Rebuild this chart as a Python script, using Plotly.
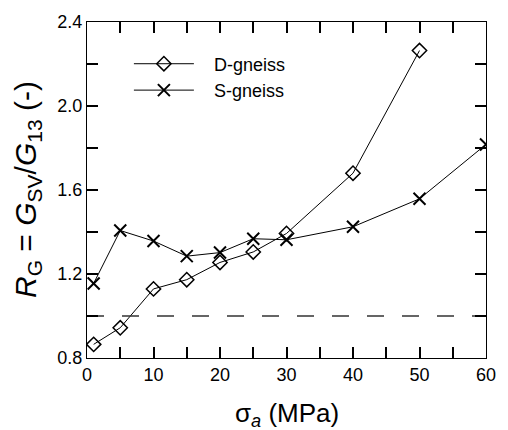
import plotly.graph_objects as go

# Axial stress levels (MPa) and stiffness ratio R_G for each rock
sigma_d = [1, 5, 10, 15, 20, 25, 30, 40, 50]
rg_d = [0.865, 0.944, 1.129, 1.173, 1.255, 1.305, 1.393, 1.680, 2.264]

sigma_s = [1, 5, 10, 15, 20, 25, 30, 40, 50, 60]
rg_s = [1.155, 1.407, 1.357, 1.285, 1.302, 1.368, 1.363, 1.425, 1.558, 1.817]

# Isotropy reference level
ref_x = [0, 60]
ref_y = [1.0, 1.0]

# Axis ranges, tick spacing and labels
X_RANGE = [0, 60]
Y_RANGE = [0.8, 2.4]
x_ticks = [0, 5, 10, 15, 20, 25, 30, 35, 40, 45, 50, 55, 60]
x_labels = ["0", "", "10", "", "20", "", "30", "", "40", "", "50", "", "60"]
y_ticks = [0.8, 1.0, 1.2, 1.4, 1.6, 1.8, 2.0, 2.2, 2.4]
y_labels = ["0.8", "", "1.2", "", "1.6", "", "2.0", "", "2.4"]

FONT = "Liberation Sans, Arial, sans-serif"
PAD = "\u00a0\u00a0\u00a0"  # spacing between legend sample and its label

fig = go.Figure()

# dashed reference line, drawn on the top/right frame axes
fig.add_trace(go.Scatter(
    x=ref_x, y=ref_y, mode="lines", showlegend=False,
    xaxis="x2", yaxis="y2",
    line=dict(color="#333333", width=1.3, dash="17px,18px"),
    hoverinfo="skip",
))

fig.add_trace(go.Scatter(
    x=sigma_d, y=rg_d, mode="lines+markers", name=PAD + "D-gneiss",
    line=dict(color="black", width=1),
    marker=dict(symbol="diamond-open", size=11, color="black",
                line=dict(color="black", width=1.5)),
))

fig.add_trace(go.Scatter(
    x=sigma_s, y=rg_s, mode="lines+markers", name=PAD + "S-gneiss",
    line=dict(color="black", width=1),
    marker=dict(symbol="x-thin-open", size=12, color="black",
                line=dict(color="black", width=2)),
))

tick_style = dict(
    ticks="inside", ticklen=11, tickwidth=2, tickcolor="black",
    showgrid=False, zeroline=False,
    showline=True, linecolor="black", linewidth=1.3,
)
label_font = dict(family=FONT, size=18, color="black")

fig.update_layout(
    width=508, height=430,
    margin=dict(l=87, r=12, t=16, b=72),
    paper_bgcolor="white", plot_bgcolor="white",
    font=dict(family=FONT, color="black"),
    xaxis=dict(range=X_RANGE, tickmode="array", tickvals=x_ticks,
               ticktext=x_labels, tickfont=label_font, **tick_style),
    yaxis=dict(range=Y_RANGE, tickmode="array", tickvals=y_ticks,
               ticktext=y_labels, tickfont=label_font, **tick_style),
    # top and right edges of the frame, ticks pointing inward
    xaxis2=dict(range=X_RANGE, overlaying="x", side="top", anchor="y2",
                tickmode="array", tickvals=x_ticks, showticklabels=False,
                **tick_style),
    yaxis2=dict(range=Y_RANGE, overlaying="y", side="right", anchor="x2",
                tickmode="array", tickvals=y_ticks, showticklabels=False,
                **tick_style),
    showlegend=True,
    legend=dict(
        x=0.105, y=0.93, xanchor="left", yanchor="top",
        bgcolor="rgba(0,0,0,0)", borderwidth=0,
        font=dict(family=FONT, size=18, color="black"),
        itemwidth=60,
    ),
    annotations=[
        dict(
            text="σ<sub><i>a</i></sub> (MPa)",
            xref="paper", yref="paper", x=0.5, y=0,
            xanchor="center", yanchor="middle", yshift=-56,
            showarrow=False,
            font=dict(family=FONT, size=26, color="black"),
        ),
        dict(
            text="<i>R</i><sub>G</sub> = <i>G</i><sub>SV</sub>/<i>G</i><sub>13</sub> (-)",
            xref="paper", yref="paper", x=0, y=0.5,
            xanchor="center", yanchor="middle", xshift=-60,
            textangle=-90, showarrow=False,
            font=dict(family=FONT, size=30, color="black"),
        ),
    ],
)

fig.write_html("out.html")
